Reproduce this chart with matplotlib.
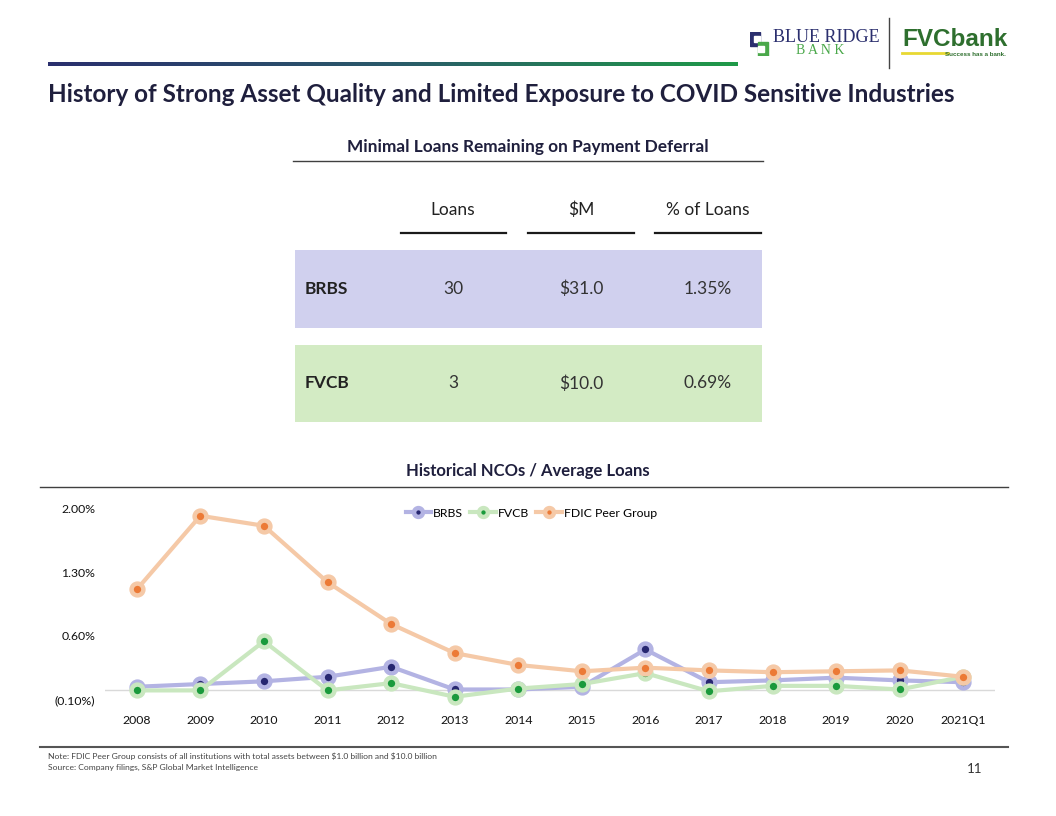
import matplotlib
matplotlib.use("Agg")
import matplotlib.pyplot as plt
import numpy as np
from matplotlib.patches import Rectangle
from matplotlib.lines import Line2D
from matplotlib.colors import LinearSegmentedColormap

W, H = 1056, 816
FONT = ["Lato", "DejaVu Sans"]
plt.rcParams['font.family'] = FONT
plt.rcParams['text.parse_math'] = False

# ---------------- data ----------------
years = ["2008", "2009", "2010", "2011", "2012", "2013", "2014",
         "2015", "2016", "2017", "2018", "2019", "2020", "2021Q1"]
brbs = [0.04, 0.07, 0.10, 0.15, 0.26, 0.01, 0.01, 0.04, 0.45, 0.09, 0.11, 0.14, 0.11, 0.09]
fvcb = [0.00, 0.00, 0.54, 0.00, 0.08, -0.07, 0.02, 0.07, 0.19, -0.01, 0.05, 0.05, 0.01, 0.15]
fdic = [1.11, 1.92, 1.81, 1.19, 0.73, 0.41, 0.28, 0.21, 0.25, 0.22, 0.20, 0.21, 0.22, 0.15]
series_names = ["BRBS", "FVCB", "FDIC Peer Group"]
yticks = [-0.10, 0.60, 1.30, 2.00]

table_cols = ["Loans", "$M", "% of Loans"]
table_rows = ["BRBS", "FVCB"]
table_loans = ["30", "3"]
table_m = ["$31.0", "$10.0"]
table_pct = ["1.35%", "0.69%"]

# ---------------- figure ----------------
fig = plt.figure(figsize=(W / 100, H / 100), dpi=100)
fig.patch.set_facecolor("white")

def fx(x):
    return x / W

def fy(y):
    return 1 - y / H

NAVY_T = "#1f1f3d"
TXT = "#222222"

# gradient bar at top
grad = np.linspace(0, 1, 256).reshape(1, -1)
cmap = LinearSegmentedColormap.from_list("g", ["#2b2f6e", "#2a5a6a", "#1f9a48"])
gax = fig.add_axes([fx(48), fy(66), fx(738 - 48), 4 / H])
gax.imshow(grad, aspect="auto", cmap=cmap)
gax.axis("off")

# Logos (text approximations)
logo_ax = fig.add_axes([fx(750), fy(56), fx(20), 24 / H])
logo_ax.set_xlim(0, 10); logo_ax.set_ylim(0, 12); logo_ax.axis("off")
logo_ax.add_patch(Rectangle((0, 5), 5, 7, color="#2b2f6e"))
logo_ax.add_patch(Rectangle((2, 7), 3, 3, color="white"))
logo_ax.add_patch(Rectangle((4, 0), 5, 7, color="#4aa84a"))
logo_ax.add_patch(Rectangle((4, 2), 3, 3, color="white"))
fig.text(fx(773), fy(37), "BLUE RIDGE", fontsize=13, color="#2b2f6e",
         family=["Liberation Serif", "DejaVu Serif"], va="center", ha="left")
fig.text(fx(820), fy(51), "B A N K", fontsize=10, color="#4aa84a",
         family=["Liberation Serif", "DejaVu Serif"], va="center", ha="center")
fig.add_artist(Line2D([fx(889), fx(889)], [fy(18), fy(68)], color="#444444", lw=1))
fig.text(fx(902), fy(39), "FVCbank", fontsize=17.5, color="#2e6f2e", weight="bold",
         family=["Liberation Sans", "DejaVu Sans"], va="center", ha="left")
fig.add_artist(Line2D([fx(902), fx(948)], [fy(53), fy(53)], color="#e8d832", lw=2))
fig.text(fx(1006), fy(54), "Success has a bank.", fontsize=4.5, color="#2e6f2e",
         weight="bold", family=["Liberation Sans", "DejaVu Sans"], va="center", ha="right")

# main title
fig.text(fx(48), fy(95), "History of Strong Asset Quality and Limited Exposure to COVID Sensitive Industries",
         fontsize=17.5, weight="bold", color=NAVY_T, va="center", ha="left")

# ---------------- table ----------------
fig.text(fx(528), fy(147), "Minimal Loans Remaining on Payment Deferral",
         fontsize=12.4, weight="bold", color=NAVY_T, ha="center", va="center")
fig.add_artist(Line2D([fx(293), fx(763)], [fy(161), fy(161)], color="#404040", lw=1))

col_x = [453, 581, 708]
col_under = [(401, 506), (528, 634), (655, 761)]
for cx, lab, (a, b) in zip(col_x, table_cols, col_under):
    fig.text(fx(cx), fy(210), lab, fontsize=12.5, color=TXT, ha="center", va="center")
    fig.add_artist(Line2D([fx(a), fx(b)], [fy(233), fy(233)], color="#1a1a1a", lw=1.6))

row_y = [(250, 328), (345, 422)]
row_col = ["#d0d0ee", "#d3ebc4"]
vals = [table_loans, table_m, table_pct]
for i, (name, (t, b), c) in enumerate(zip(table_rows, row_y, row_col)):
    fig.add_artist(Rectangle((fx(295), fy(b)), fx(762 - 295), (b - t) / H,
                             facecolor=c, edgecolor="none", transform=fig.transFigure))
    yc = (t + b) / 2
    fig.text(fx(305), fy(yc), name, fontsize=12.5, weight="bold", color=TXT, ha="left", va="center")
    for cx, v in zip(col_x, vals):
        fig.text(fx(cx), fy(yc), v[i], fontsize=12.5, color="#333333", ha="center", va="center")

# ---------------- chart ----------------
fig.text(fx(528), fy(471), "Historical NCOs / Average Loans",
         fontsize=12, weight="bold", color=NAVY_T, ha="center", va="center")
fig.add_artist(Line2D([fx(40), fx(1008)], [fy(487), fy(487)], color="#404040", lw=1))

ax_l, ax_r, ax_t, ax_b = 105, 995, 508.5, 699.5
ax = fig.add_axes([fx(ax_l), fy(ax_b), fx(ax_r - ax_l), (ax_b - ax_t) / H])
x = np.arange(len(years))
styles = [("#b3b3e3", "#262670"), ("#c9e7bf", "#1a9a3c"), ("#f5c9a7", "#ec7a36")]
for vals_s, name, (lc, dc) in zip([brbs, fvcb, fdic], series_names, styles):
    ax.plot(x, vals_s, color=lc, lw=3, marker="o", ms=8.5, mfc=dc, mec=lc, mew=3.2,
            label=name, clip_on=False, zorder=3)
ax.axhline(0, color="#d9d9d9", lw=1, zorder=1)
ax.set_xlim(-0.5, len(years) - 0.5)
ax.set_ylim(-0.10, 2.00)
ax.set_yticks(yticks)
ax.set_yticklabels([f"({abs(v):.2f}%)" if v < 0 else f"{v:.2f}%" for v in yticks])
ax.set_xticks(x)
ax.set_xticklabels(years)
ax.tick_params(axis="both", length=0, labelsize=8.8, colors="#111111")
ax.tick_params(axis="y", pad=7)
ax.tick_params(axis="x", pad=11)
for s in ax.spines.values():
    s.set_visible(False)
ax.patch.set_alpha(0)
leg = ax.legend(loc="center", bbox_to_anchor=(0.479, 0.976), ncol=3, frameon=False,
                fontsize=8.8, handlelength=2.1, columnspacing=0.6, handletextpad=0.15,
                markerscale=0.75, borderpad=0)

# footer
fig.add_artist(Line2D([fx(40), fx(1008)], [fy(747), fy(747)], color="#555555", lw=1.5))
fig.text(fx(48), fy(756), "Note: FDIC Peer Group consists of all institutions with total assets between $1.0 billion and $10.0 billion",
         fontsize=6.1, color="#444444", ha="left", va="center")
fig.text(fx(48), fy(767), "Source: Company filings, S&P Global Market Intelligence",
         fontsize=6.1, color="#444444", ha="left", va="center")
fig.text(fx(975), fy(769), "11", fontsize=9.5, color="#333333", ha="center", va="center")

fig.savefig("out.png", dpi=100)
